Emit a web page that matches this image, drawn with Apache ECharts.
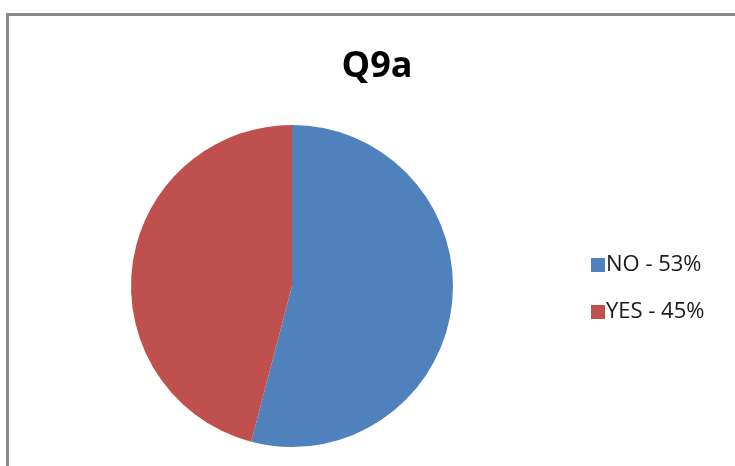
<!DOCTYPE html>
<html>
<head>
<meta charset="utf-8">
<script src="https://cdn.jsdelivr.net/npm/echarts@6/dist/echarts.min.js"></script>
<style>
  body { margin: 0; background: #fff; }
  #wrap { position: relative; width: 735px; height: 466px; overflow: hidden; }
  #frame { position: absolute; left: 6px; top: 13px; width: 800px; height: 500px;
           border-top: 3px solid #8a8a8a; border-left: 3px solid #8a8a8a; }
  #main { position: absolute; left: 0; top: 0; width: 735px; height: 466px; }
</style>
</head>
<body>
<div id="wrap">
  <div id="frame"></div>
  <div id="main"></div>
</div>
<script>
var categories = ['NO', 'YES'];
var values = [53, 45];
var colors = ['#4F81BD', '#C0504D'];

var app = echarts.init(document.getElementById('main'));

var seriesData = [];
categories.forEach(function (name, i) {
    seriesData.push({ name: name, value: values[i], itemStyle: { color: colors[i] } });
});

option = {
    animation: false,
    title: {
        text: 'Q9a',
        left: 372,
        top: 44,
        textAlign: 'center',
        textStyle: {
            fontFamily: 'Open Sans',
            fontSize: 36,
            fontWeight: 'bold',
            color: '#000'
        }
    },
    legend: {
        orient: 'vertical',
        left: 586,
        top: 249,
        itemWidth: 14,
        itemHeight: 14,
        itemGap: 25,
        icon: 'rect',
        data: categories,
        formatter: function (name) {
            return name + ' - ' + values[categories.indexOf(name)] + '%';
        },
        textStyle: {
            fontFamily: 'Open Sans',
            fontSize: 22,
            color: '#1a1a1a',
            padding: [0, 0, 0, -4]
        }
    },
    series: [
        {
            name: 'Q9a',
            type: 'pie',
            center: [292, 286],
            radius: 161,
            startAngle: 90,
            clockwise: true,
            label: { show: false },
            labelLine: { show: false },
            data: seriesData
        }
    ]
};

app.setOption(option);
</script>
</body>
</html>
